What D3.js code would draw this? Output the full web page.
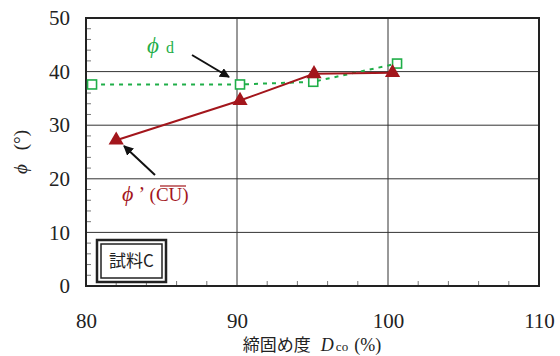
<!DOCTYPE html>
<html>
<head>
<meta charset="utf-8">
<script src="https://cdn.jsdelivr.net/npm/d3@7"></script>
<style>
  html, body { margin: 0; padding: 0; background: #fff; }
  svg { display: block; }
</style>
</head>
<body>
<svg id="chart" width="560" height="356"></svg>
<script>
// Degree of compaction (%) vs friction angle (°), sample C
const phiDX = [80.4, 90.2, 95.05, 100.6];
const phiDY = [37.6, 37.6, 38.1, 41.5];
const phiCuX = [82.0, 90.2, 95.1, 100.3];
const phiCuY = [27.2, 34.6, 39.6, 39.8];
const xTicks = [80, 90, 100, 110];
const yTicks = [0, 10, 20, 30, 40, 50];

const SERIF = '"Liberation Serif", "Times New Roman", "DejaVu Serif", serif';
const JP = '"Noto Sans CJK JP", sans-serif';

const svg = d3.select("#chart");
const m = { left: 86, right: 539, top: 18, bottom: 286 };
const x = d3.scaleLinear().domain([80, 110]).range([m.left, m.right]);
const y = d3.scaleLinear().domain([0, 50]).range([m.bottom, m.top]);

// grid
const g = svg.append("g");
g.selectAll(".gx").data(xTicks.slice(1, -1)).join("line")
  .attr("x1", d => x(d)).attr("x2", d => x(d))
  .attr("y1", m.top).attr("y2", m.bottom)
  .attr("stroke", "#333").attr("stroke-width", 1);
g.selectAll(".gy").data(yTicks.slice(1, -1)).join("line")
  .attr("x1", m.left).attr("x2", m.right)
  .attr("y1", d => y(d)).attr("y2", d => y(d))
  .attr("stroke", "#333").attr("stroke-width", 1);

// minor ticks (inward)
const minorY = d3.range(2, 50, 2).filter(v => v % 10 !== 0);
g.selectAll(".my").data(minorY).join("line")
  .attr("x1", m.left).attr("x2", m.left + 5)
  .attr("y1", d => y(d)).attr("y2", d => y(d))
  .attr("stroke", "#555").attr("stroke-width", 0.8);
const minorX = d3.range(82, 110, 2).filter(v => v % 10 !== 0);
g.selectAll(".mx").data(minorX).join("line")
  .attr("x1", d => x(d)).attr("x2", d => x(d))
  .attr("y1", m.bottom).attr("y2", m.bottom - 5)
  .attr("stroke", "#555").attr("stroke-width", 0.8);

// frame
svg.append("rect")
  .attr("x", m.left).attr("y", m.top)
  .attr("width", m.right - m.left).attr("height", m.bottom - m.top)
  .attr("fill", "none").attr("stroke", "#222").attr("stroke-width", 2);

// axes tick labels
const yAxis = d3.axisLeft(y).tickValues(yTicks).tickSize(0).tickPadding(16);
const ya = svg.append("g").attr("transform", `translate(${m.left},0)`).call(yAxis);
ya.select(".domain").remove();
ya.selectAll("text").style("font-size", "21px").style("font-family", SERIF).attr("fill", "#222");

const xAxis = d3.axisBottom(x).tickValues(xTicks).tickSize(0).tickPadding(27);
const xa = svg.append("g").attr("transform", `translate(0,${m.bottom})`).call(xAxis);
xa.select(".domain").remove();
xa.selectAll("text").style("font-size", "21px").style("font-family", SERIF).attr("fill", "#222");

// axis titles
const xt = svg.append("text").attr("x", 312).attr("y", 351)
  .attr("text-anchor", "middle").style("font-family", SERIF).style("font-size", "18px")
  .attr("fill", "#222");
xt.append("tspan").style("font-family", JP).style("font-size", "17px").text("締固め度");
xt.append("tspan").attr("font-style", "italic").attr("dx", 10).text("D");
xt.append("tspan").style("font-size", "13px").attr("dx", 2).text("co");
xt.append("tspan").attr("dx", 6).text("(%)");

const yt = svg.append("text")
  .attr("transform", "translate(27,152) rotate(-90)")
  .attr("text-anchor", "middle").style("font-family", SERIF).style("font-size", "19px")
  .attr("fill", "#222");
yt.append("tspan").attr("font-style", "italic").text("ϕ");
yt.append("tspan").attr("dx", 14).text("(°)");

// series
const red = "#a3161c", green = "#1fae48";
const lineGen = d3.line().x(d => x(d[0])).y(d => y(d[1]));
const dData = phiDX.map((v, i) => [v, phiDY[i]]);
const cuData = phiCuX.map((v, i) => [v, phiCuY[i]]);

svg.append("path").datum(dData).attr("d", lineGen)
  .attr("fill", "none").attr("stroke", green).attr("stroke-width", 2)
  .attr("stroke-dasharray", "4,5");
svg.append("path").datum(cuData).attr("d", lineGen)
  .attr("fill", "none").attr("stroke", red).attr("stroke-width", 2);

svg.selectAll(".sq").data(dData).join("rect")
  .attr("x", d => x(d[0]) - 4.5).attr("y", d => y(d[1]) - 4.5)
  .attr("width", 9).attr("height", 9)
  .attr("fill", "#fff").attr("stroke", green).attr("stroke-width", 1.6);
const tri = d3.symbol().type(d3.symbolTriangle).size(100);
svg.selectAll(".tr").data(cuData).join("path")
  .attr("d", tri)
  .attr("transform", d => `translate(${x(d[0])},${y(d[1])})`)
  .attr("fill", red);

// annotation arrows
svg.append("defs").append("marker")
  .attr("id", "ah").attr("viewBox", "0 0 10 10").attr("refX", 9).attr("refY", 5)
  .attr("markerWidth", 5).attr("markerHeight", 5).attr("orient", "auto")
  .append("path").attr("d", "M0,0 L10,5 L0,10 z").attr("fill", "#111");
svg.append("line").attr("x1", 192).attr("y1", 55).attr("x2", 229).attr("y2", 77)
  .attr("stroke", "#111").attr("stroke-width", 2).attr("marker-end", "url(#ah)");
svg.append("line").attr("x1", 155).attr("y1", 175).attr("x2", 124).attr("y2", 146)
  .attr("stroke", "#111").attr("stroke-width", 2).attr("marker-end", "url(#ah)");

// series labels
const ld = svg.append("text").attr("x", 147).attr("y", 53).attr("fill", green)
  .style("font-family", SERIF);
ld.append("tspan").attr("font-style", "italic").style("font-size", "23px").text("ϕ");
ld.append("tspan").attr("dx", 7).style("font-size", "16px").text("d");

svg.append("rect").attr("x", 112).attr("y", 182).attr("width", 88).attr("height", 24)
  .attr("fill", "#fff");
const lc = svg.append("text").attr("x", 122).attr("y", 201).attr("fill", red)
  .style("font-family", SERIF);
lc.append("tspan").attr("font-style", "italic").style("font-size", "22px").text("ϕ");
lc.append("tspan").style("font-size", "20px").text(" ’ ");
lc.append("tspan").style("font-size", "19px").attr("dx", 1).text("(CU)");
svg.append("line").attr("x1", 160).attr("x2", 186).attr("y1", 186).attr("y2", 186)
  .attr("stroke", red).attr("stroke-width", 1.2);

// sample box
const bx = 96, by = 239, bw = 71, bh = 44;
svg.append("rect").attr("x", bx + 1).attr("y", by + 1).attr("width", bw - 2).attr("height", bh - 2)
  .attr("fill", "#fff").attr("stroke", "#222").attr("stroke-width", 2.5);
svg.append("rect").attr("x", bx + 5).attr("y", by + 5).attr("width", bw - 10).attr("height", bh - 10)
  .attr("fill", "none").attr("stroke", "#222").attr("stroke-width", 1.5);
svg.append("text").attr("x", bx + bw / 2).attr("y", by + bh / 2 + 6)
  .attr("text-anchor", "middle").style("font-size", "17px").style("font-family", JP)
  .attr("fill", "#222").text("試料C");
</script>
</body>
</html>
